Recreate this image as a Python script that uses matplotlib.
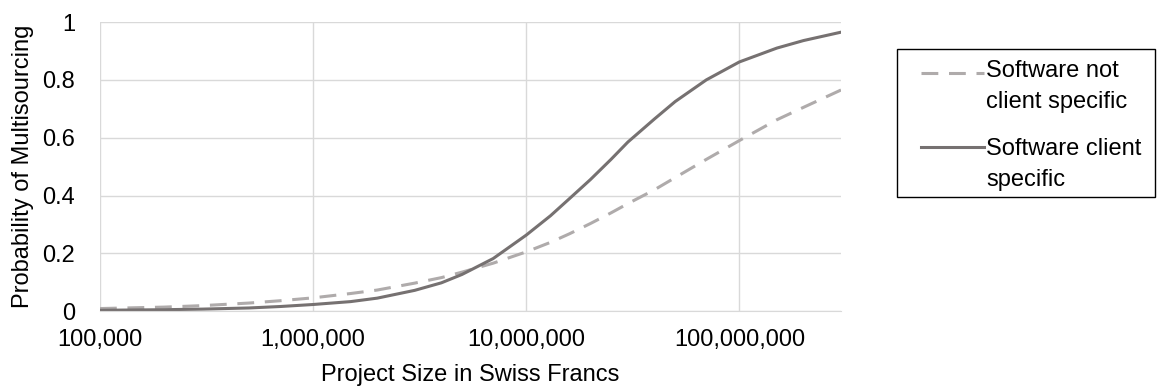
import matplotlib.pyplot as plt
from matplotlib.lines import Line2D
from matplotlib.patches import Rectangle
from matplotlib.ticker import FuncFormatter

plt.rcParams['font.family'] = ['Liberation Sans', 'DejaVu Sans']

# project size (CHF) sample points
size_chf = [1e5, 2e5, 3e5, 5e5, 7e5, 1e6, 1.5e6, 2e6, 3e6, 4e6, 5e6, 7e6,
            1e7, 1.3e7, 1.6e7, 2e7, 2.5e7, 3e7, 4e7, 5e7, 7e7, 1e8, 1.5e8, 2e8, 3e8]
p_not_specific = [0.009, 0.014, 0.019, 0.028, 0.036, 0.046, 0.061, 0.073, 0.097,
                  0.116, 0.135, 0.166, 0.205, 0.238, 0.268, 0.303, 0.340, 0.372,
                  0.420, 0.462, 0.525, 0.590, 0.662, 0.705, 0.765]
p_specific = [0.003, 0.005, 0.007, 0.011, 0.016, 0.023, 0.033, 0.045, 0.072,
              0.098, 0.127, 0.182, 0.263, 0.330, 0.390, 0.455, 0.525, 0.585,
              0.665, 0.725, 0.800, 0.862, 0.910, 0.936, 0.965]
labels = ["Software not\nclient specific", "Software client\nspecific"]

FS = 17
fig = plt.figure(figsize=(11.57, 3.87), dpi=100)
ax = fig.add_axes([0.0864, 0.196, 0.6405, 0.747])

dash_style = dict(color='#AFABAB', lw=2.2, ls=(0, (5.5, 3.5)), dash_capstyle='butt')
solid_style = dict(color='#767171', lw=2.2)
ax.plot(size_chf, p_not_specific, **dash_style)
ax.plot(size_chf, p_specific, **solid_style)

ax.set_xscale('log')
ax.set_xlim(1e5, 3e8)
ax.set_ylim(0, 1)
ax.set_yticks([0, 0.2, 0.4, 0.6, 0.8, 1])
ax.yaxis.set_major_formatter(FuncFormatter(lambda v, p: f"{v:g}"))
ax.set_xticks([1e5, 1e6, 1e7, 1e8])
ax.xaxis.set_major_formatter(FuncFormatter(lambda v, p: f"{int(v):,}"))
ax.minorticks_off()
ax.grid(True, color='#D9D9D9', lw=1)
ax.set_axisbelow(True)
for s in ['top', 'right', 'left']:
    ax.spines[s].set_visible(False)
ax.spines['bottom'].set_color('#D9D9D9')
ax.tick_params(length=0, labelsize=FS, colors='#000000')
ax.tick_params(axis='x', pad=13)
ax.tick_params(axis='y', pad=18)

ax.set_xlabel("Project Size in Swiss Francs", fontsize=FS, labelpad=9)
ax.set_ylabel("Probability of Multisourcing", fontsize=FS, labelpad=6)

# legend box drawn by hand so the line sits next to the first text row
W, H = 1157, 387
fig.add_artist(Rectangle((897 / W, 1 - 197 / H), 258 / W, 148 / H,
                         transform=fig.transFigure, fill=False,
                         edgecolor='black', lw=1))
for style, y_line, y_base, lab in [(dash_style, 73, 77, labels[0]),
                                   (solid_style, 147, 155, labels[1])]:
    fig.add_artist(Line2D([921 / W, 984 / W], [1 - y_line / H] * 2,
                          transform=fig.transFigure, **style))
    for i, line in enumerate(lab.split("\n")):
        fig.text(986 / W, 1 - (y_base + i * 31) / H, line, fontsize=FS,
                 va='baseline', ha='left')

fig.savefig('out.png', dpi=100)
